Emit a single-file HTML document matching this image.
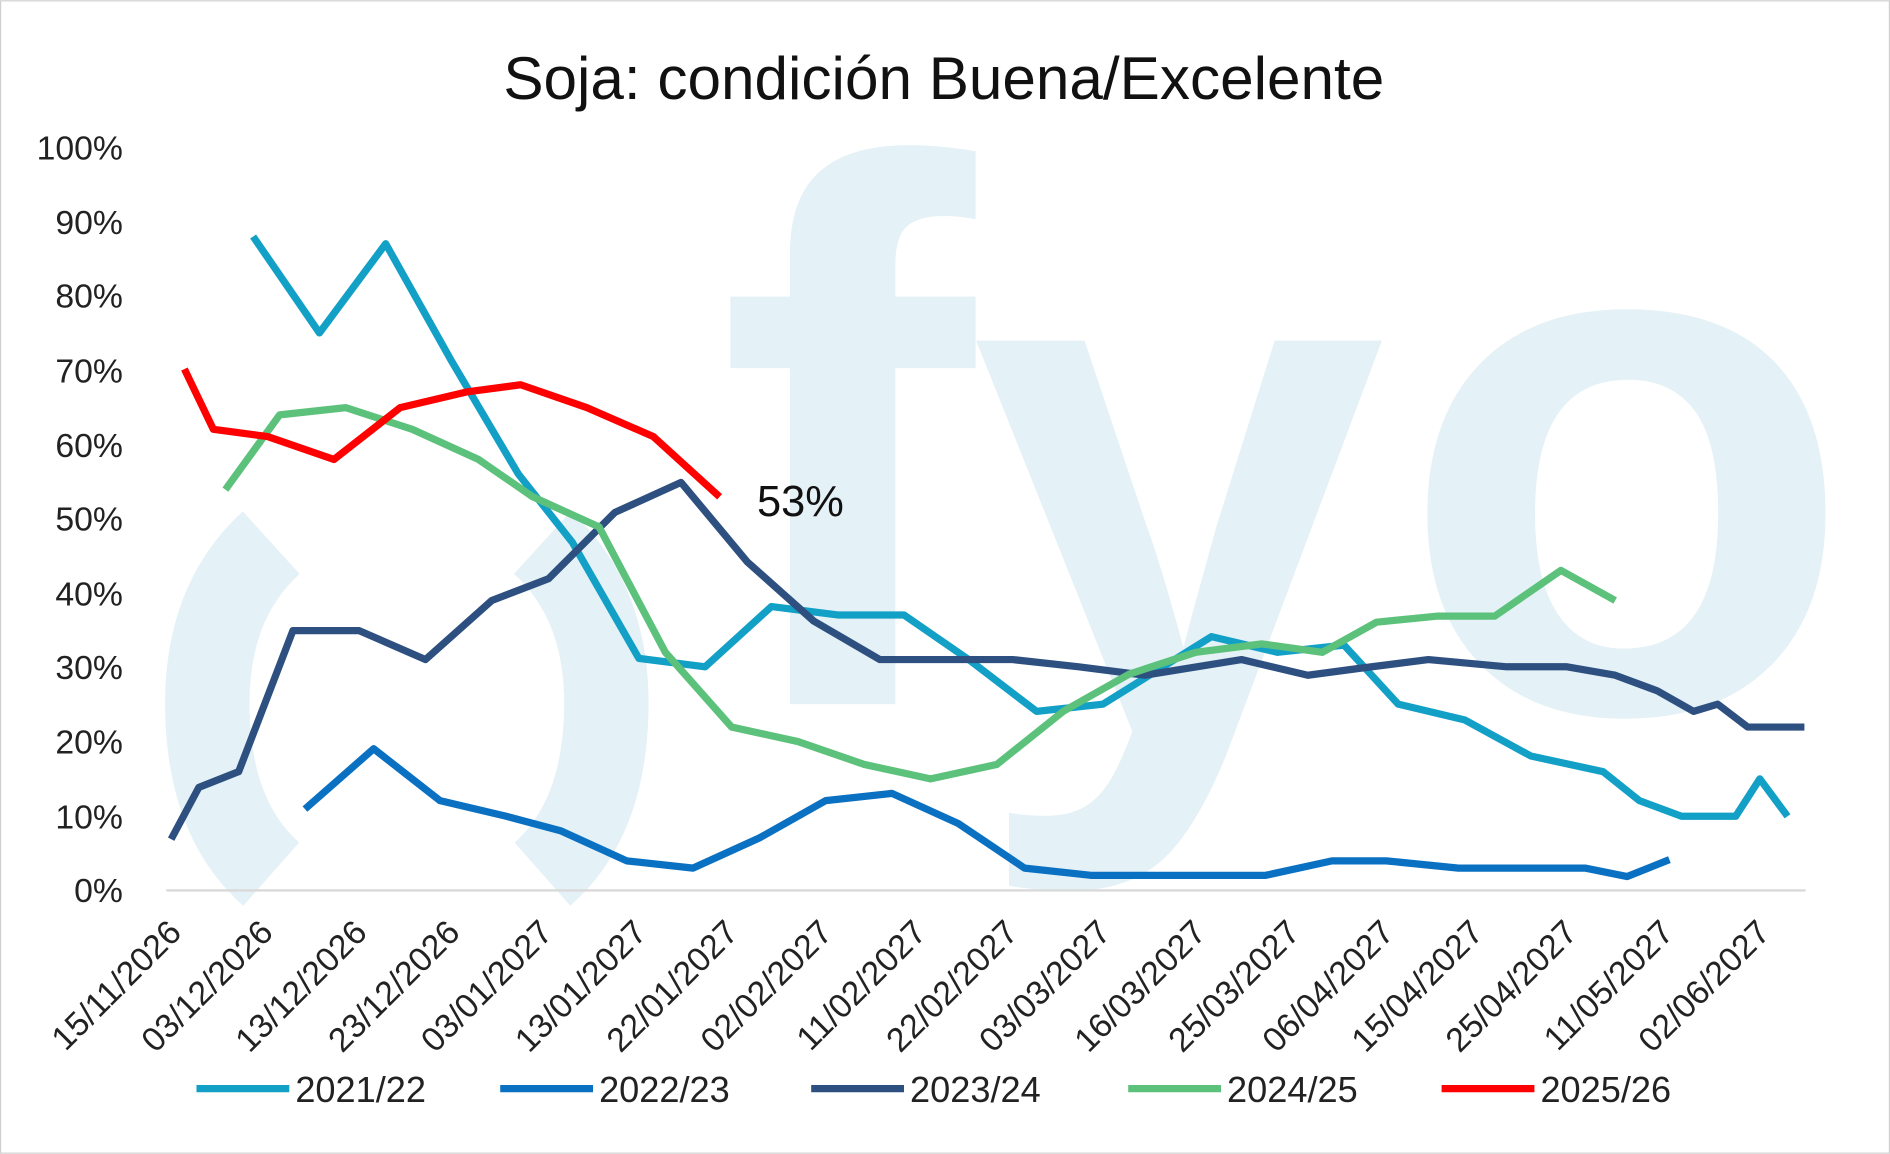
<!DOCTYPE html>
<html><head><meta charset="utf-8"><style>html,body{margin:0;padding:0;background:#fff}svg{display:block}</style></head>
<body>
<svg width="1890" height="1154" viewBox="0 0 1568 957" xmlns="http://www.w3.org/2000/svg" font-family="Liberation Sans, DejaVu Sans, sans-serif">
<rect x="0.5" y="0.5" width="1567" height="956" fill="#fff" stroke="#d0d0d0"/>
<g fill="#e4f1f6">
<text x="595" y="584" font-size="640" font-weight="bold">f</text>
<text x="805" y="610" font-size="620" font-weight="bold">y</text>
<text x="1160" y="590" font-size="620" font-weight="bold">o</text>
</g>
<g fill="none" stroke="#e4f1f6" stroke-width="70">
<path d="M225 450 Q170 500 172 590 Q174 680 225 725"/>
<path d="M450 450 Q505 500 503 590 Q501 680 450 725"/>
</g>
<text x="783" y="82" font-size="50" text-anchor="middle" fill="#111">Soja: condición Buena/Excelente</text>
<g font-size="28" fill="#222" text-anchor="end">
<text x="102" y="132">100%</text><text x="102" y="194">90%</text><text x="102" y="255">80%</text>
<text x="102" y="317">70%</text><text x="102" y="379">60%</text><text x="102" y="440">50%</text>
<text x="102" y="502">40%</text><text x="102" y="563">30%</text><text x="102" y="625">20%</text>
<text x="102" y="687">10%</text><text x="102" y="748">0%</text>
</g>
<line x1="138" y1="738.5" x2="1498" y2="738.5" stroke="#d9d9d9" stroke-width="2"/>
<g font-size="28" fill="#222" text-anchor="end">
<text transform="translate(152,775) rotate(-45)">15/11/2026</text>
<text transform="translate(228,775) rotate(-45)">03/12/2026</text>
<text transform="translate(306,775) rotate(-45)">13/12/2026</text>
<text transform="translate(383,775) rotate(-45)">23/12/2026</text>
<text transform="translate(460,775) rotate(-45)">03/01/2027</text>
<text transform="translate(538,775) rotate(-45)">13/01/2027</text>
<text transform="translate(614,775) rotate(-45)">22/01/2027</text>
<text transform="translate(692,775) rotate(-45)">02/02/2027</text>
<text transform="translate(770,775) rotate(-45)">11/02/2027</text>
<text transform="translate(846,775) rotate(-45)">22/02/2027</text>
<text transform="translate(923,775) rotate(-45)">03/03/2027</text>
<text transform="translate(1002,775) rotate(-45)">16/03/2027</text>
<text transform="translate(1080,775) rotate(-45)">25/03/2027</text>
<text transform="translate(1158,775) rotate(-45)">06/04/2027</text>
<text transform="translate(1232,775) rotate(-45)">15/04/2027</text>
<text transform="translate(1310,775) rotate(-45)">25/04/2027</text>
<text transform="translate(1390,775) rotate(-45)">11/05/2027</text>
<text transform="translate(1470,775) rotate(-45)">02/06/2027</text>
</g>
<g fill="none" stroke-width="6" stroke-linejoin="round">
<polyline stroke="#12a0c6" points="210,196 265,276 320,202 375,300 430,393 475,450 530,546 585,553 640,503 695,510 750,510 805,548 860,590 915,584 1005,528 1060,541 1115,535 1160,584 1215,597 1270,627 1330,640 1360,664 1395,677 1440,677 1460,646 1483,677"/>
<polyline stroke="#0a70c2" points="253,671 310,621 365,664 420,677 465,689 520,714 575,720 630,695 685,664 740,658 795,683 850,720 905,726 960,726 1050,726 1105,714 1150,714 1210,720 1260,720 1315,720 1350,727 1385,713"/>
<polyline stroke="#2e5080" points="142,696 165,653 198,640 243,523 298,523 353,547 408,498 455,480 510,425 565,400 620,466 675,515 730,547 785,547 840,547 895,553 950,560 1030,547 1085,560 1130,554 1185,547 1250,553 1300,553 1340,560 1375,573 1405,590 1425,584 1450,603 1497,603"/>
<polyline stroke="#5cc17a" points="187,406 232,344 287,338 342,356 397,381 442,412 497,437 552,541 607,603 662,615 717,634 772,646 827,634 882,590 937,559 992,541 1047,534 1097,541 1142,516 1192,511 1240,511 1295,473 1340,498"/>
<polyline stroke="#ff0000" points="153,306 177,356 222,362 277,381 332,338 387,325 432,319 487,338 542,362 597,412"/>
</g>
<text x="628" y="428" font-size="36" fill="#111">53%</text>
<g stroke-width="6">
<line x1="163" y1="903" x2="240" y2="903" stroke="#12a0c6"/>
<line x1="415" y1="903" x2="492" y2="903" stroke="#0a70c2"/>
<line x1="673" y1="903" x2="750" y2="903" stroke="#2e5080"/>
<line x1="936" y1="903" x2="1013" y2="903" stroke="#5cc17a"/>
<line x1="1196" y1="903" x2="1273" y2="903" stroke="#ff0000"/>
</g>
<g font-size="30" fill="#222">
<text x="245" y="914">2021/22</text><text x="497" y="914">2022/23</text><text x="755" y="914">2023/24</text>
<text x="1018" y="914">2024/25</text><text x="1278" y="914">2025/26</text>
</g>
</svg>
</body></html>
